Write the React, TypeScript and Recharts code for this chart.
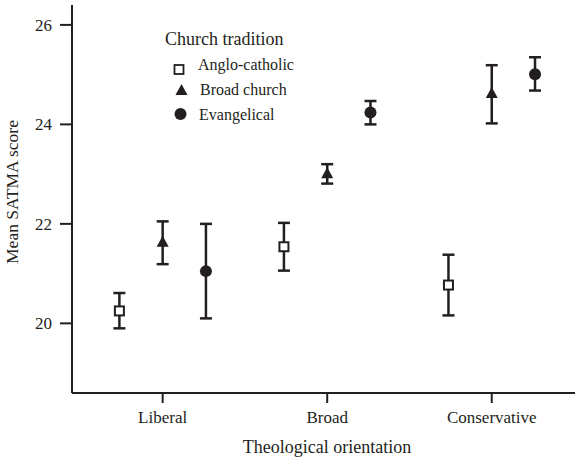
import React from 'react';
import {
  ScatterChart,
  Scatter,
  XAxis,
  YAxis,
  ErrorBar
} from 'recharts';

const orientations = ['Liberal', 'Broad', 'Conservative'];
const traditions = ['Anglo-catholic', 'Broad church', 'Evangelical'];

// mean and CI bounds, one value per orientation
const angloMean = [20.25, 21.54, 20.77];
const angloLow = [19.9, 21.06, 20.16];
const angloHigh = [20.61, 22.02, 21.38];

const broadMean = [21.64, 23.02, 24.63];
const broadLow = [21.19, 22.81, 24.02];
const broadHigh = [22.05, 23.2, 25.19];

const evangMean = [21.05, 24.24, 25.01];
const evangLow = [20.1, 24.0, 24.68];
const evangHigh = [22.0, 24.47, 25.35];

const yTicks = [20, 22, 24, 26];

const INK = '#231f20';
const FONT = '"Liberation Serif", "Times New Roman", serif';
const DODGE = 0.263;

const build = (mean: number[], low: number[], high: number[], shift: number) =>
  mean.map((m, i) => ({
    x: i + 1 + shift,
    y: m,
    err: [m - low[i], high[i] - m]
  }));

const angloData = build(angloMean, angloLow, angloHigh, -DODGE);
const broadData = build(broadMean, broadLow, broadHigh, 0);
const evangData = build(evangMean, evangLow, evangHigh, DODGE);

const SquareShape = (props: any) => {
  const { cx, cy } = props;
  return <rect x={cx - 4.5} y={cy - 4.5} width={9} height={9} fill="#fff" stroke={INK} strokeWidth={2} />;
};

const TriangleShape = (props: any) => {
  const { cx, cy } = props;
  return <path d={`M${cx},${cy - 6} L${cx + 6},${cy + 5} L${cx - 6},${cy + 5} Z`} fill={INK} />;
};

const CircleShape = (props: any) => {
  const { cx, cy } = props;
  return <circle cx={cx} cy={cy} r={6} fill={INK} />;
};

// legend drawn over the plot, top-left
const LegendBox = () => (
  <svg width={170} height={110} style={{ display: 'block' }}>
    <text x={15} y={25} fontFamily={FONT} fontSize={18} fill={INK}>Church tradition</text>
    <rect x={24.5} y={45} width={9} height={9} fill="#fff" stroke={INK} strokeWidth={1.8} />
    <text x={48} y={50} fontFamily={FONT} fontSize={16} fill={INK}>{traditions[0]}</text>
    <path d="M31.5,64 L37.5,75 L25.5,75 Z" fill={INK} />
    <text x={50} y={75} fontFamily={FONT} fontSize={16} fill={INK}>{traditions[1]}</text>
    <circle cx={30.5} cy={94} r={6} fill={INK} />
    <text x={49} y={100} fontFamily={FONT} fontSize={16} fill={INK}>{traditions[2]}</text>
  </svg>
);

export default function App() {
  return (
    <div style={{ position: 'absolute', left: 0, top: 0, width: 575, height: 459, background: '#fff' }}>
      <ScatterChart width={575} height={459} margin={{ top: 5, right: 0, bottom: 0, left: 0 }}>
        <XAxis
          type="number"
          dataKey="x"
          domain={[0.449, 3.506]}
          ticks={[1, 2, 3]}
          tickFormatter={(v: number) => orientations[v - 1]}
          allowDataOverflow
          height={66}
          stroke={INK}
          axisLine={{ stroke: INK, strokeWidth: 2 }}
          tickLine={{ stroke: INK, strokeWidth: 2 }}
          tickSize={10}
          tickMargin={8}
          tick={{ fill: INK, fontSize: 17, fontFamily: FONT }}
          label={{
            content: () => (
              <text x={327} y={453} textAnchor="middle" fontFamily={FONT} fontSize={18} fill={INK}>
                Theological orientation
              </text>
            )
          }}
        />
        <YAxis
          type="number"
          dataKey="y"
          domain={[18.6, 26.4]}
          ticks={yTicks}
          allowDataOverflow
          width={72}
          stroke={INK}
          axisLine={{ stroke: INK, strokeWidth: 2 }}
          tickLine={{ stroke: INK, strokeWidth: 2 }}
          tickSize={12}
          tickMargin={8}
          tick={{ fill: INK, fontSize: 17, fontFamily: FONT }}
          label={{
            content: () => (
              <text
                x={18}
                y={192}
                transform="rotate(-90 18 192)"
                textAnchor="middle"
                fontFamily={FONT}
                fontSize={17.5}
                fill={INK}
              >
                Mean SATMA score
              </text>
            )
          }}
        />
        <Scatter name={traditions[0]} data={angloData} shape={<SquareShape />} isAnimationActive={false}>
          <ErrorBar dataKey="err" direction="y" width={6} stroke={INK} strokeWidth={2.5} isAnimationActive={false} />
        </Scatter>
        <Scatter name={traditions[1]} data={broadData} shape={<TriangleShape />} isAnimationActive={false}>
          <ErrorBar dataKey="err" direction="y" width={6} stroke={INK} strokeWidth={2.5} isAnimationActive={false} />
        </Scatter>
        <Scatter name={traditions[2]} data={evangData} shape={<CircleShape />} isAnimationActive={false}>
          <ErrorBar dataKey="err" direction="y" width={6} stroke={INK} strokeWidth={2.5} isAnimationActive={false} />
        </Scatter>
      </ScatterChart>
      <div style={{ position: 'absolute', left: 150, top: 20 }}>
        <LegendBox />
      </div>
    </div>
  );
}
